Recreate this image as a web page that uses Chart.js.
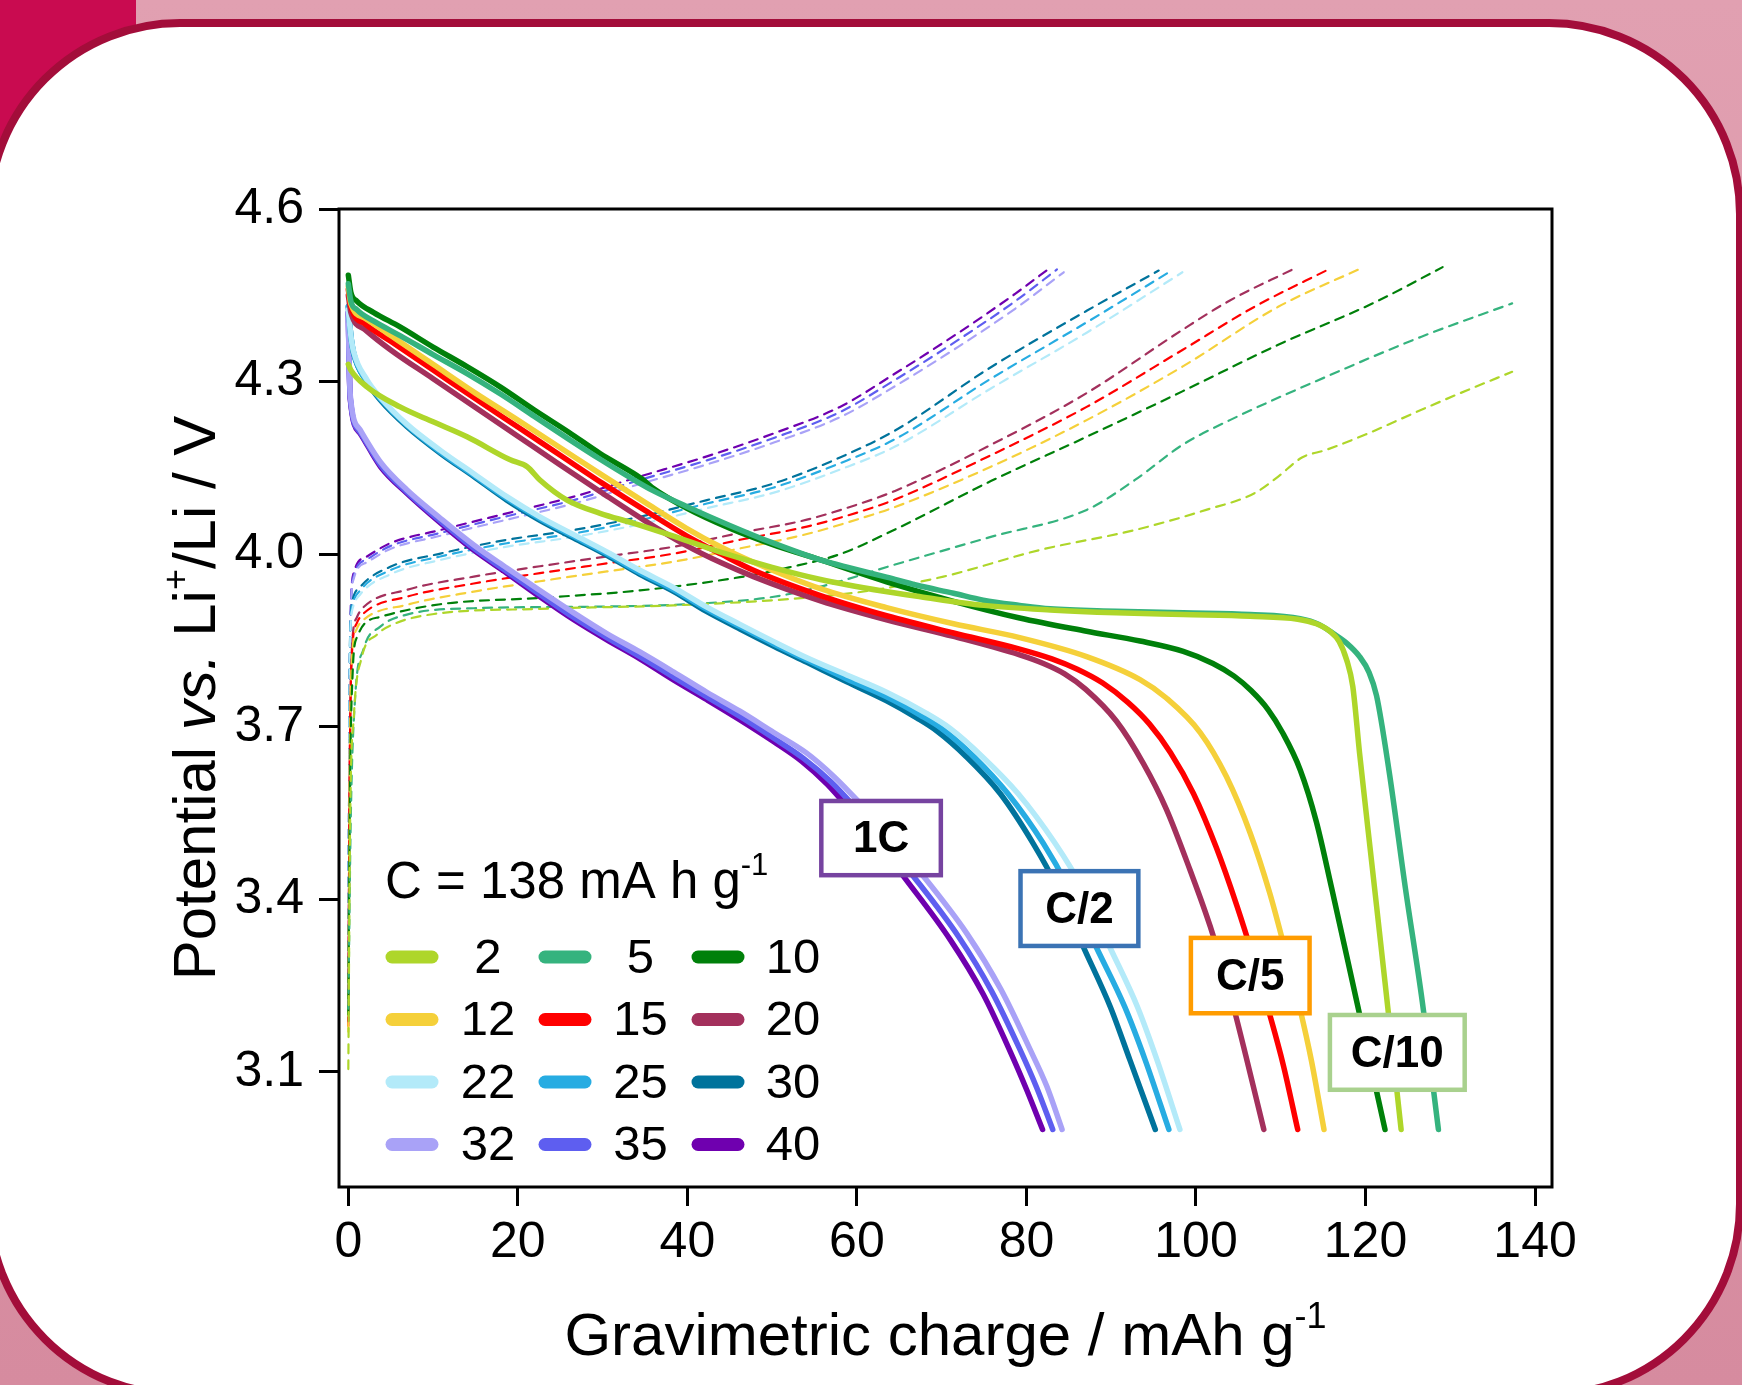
<!DOCTYPE html>
<html>
<head>
<meta charset="utf-8">
<script src="https://cdn.jsdelivr.net/npm/chart.js@4.4.1/dist/chart.umd.min.js"></script>
<style>
  html, body { margin: 0; width: 1742px; height: 1385px; overflow: hidden;
    background: linear-gradient(#E1A0B1, #D68B9F); }
  #corner { position: absolute; left: 0; top: 0; width: 136px; height: 170px; background: #C90B50; }
  #panel { position: absolute; left: -15px; top: 19px; width: 1759px; height: 1380px; box-sizing: border-box;
    border: 8px solid #A30D3A; border-radius: 195px; background: #fff; }
  #myChart { position: absolute; left: 0; top: 0; }
</style>
</head>
<body>
<div id="corner"></div>
<div id="panel"></div>
<canvas id="myChart" width="1742" height="1385"></canvas>
<script>
const FONT = "'Liberation Sans', Arial, Helvetica, sans-serif";

// current rates (mA g-1) and their colours
const rates = [2, 5, 10, 12, 15, 20, 22, 25, 30, 32, 35, 40];
const colors = ['#AED62A', '#35B37E', '#00800A', '#F5D03A', '#FF0000', '#A3305C',
                '#B3EAF9', '#27ACE2', '#00739C', '#A9A2F7', '#5E5EF0', '#6F00AF'];

const xTicks = [0, 20, 40, 60, 80, 100, 120, 140];
const yTicks = [3.1, 3.4, 3.7, 4.0, 4.3, 4.6];

// discharge curves [charge mAh/g, potential V]
const dis2 = [[0,4.33],[0.3,4.32],[2.2,4.291],[6.1,4.256],[10,4.23],[14,4.204],[19.1,4.164],[21.1,4.152],[22.6,4.129],[25.8,4.094],[29.7,4.071],[33.6,4.054],[38,4.033],[44,4.003],[50,3.977],[55.7,3.956],[63,3.936],[67.5,3.926],[75,3.911],[82.8,3.903],[90.6,3.898],[98.5,3.895],[106.4,3.892],[112,3.887],[114.2,3.879],[115.8,3.866],[116.9,3.848],[117.8,3.815],[118.5,3.77],[119.3,3.654],[120.8,3.455],[122.3,3.256],[124.2,3.0]];
const dis5 = [[0,4.47],[0.3,4.44],[1,4.425],[3,4.405],[6.1,4.38],[10,4.347],[14,4.314],[18,4.278],[21.9,4.24],[26,4.2],[29.7,4.165],[33.6,4.13],[36,4.11],[39.9,4.083],[45,4.05],[50,4.02],[55.7,3.99],[59.2,3.976],[63.5,3.96],[67.1,3.946],[71.4,3.932],[74.9,3.92],[79.2,3.911],[82.8,3.905],[90.6,3.901],[98.5,3.898],[106.4,3.895],[112.3,3.888],[114.5,3.878],[116.2,3.862],[117.8,3.845],[119.3,3.822],[120.4,3.795],[121.3,3.754],[122.8,3.621],[124.7,3.42],[126.7,3.222],[128.6,3.0]];
const dis10 = [[0,4.485],[0.3,4.455],[1,4.44],[3,4.42],[6.1,4.395],[10,4.36],[14,4.326],[18,4.29],[21.9,4.251],[26,4.212],[29.7,4.175],[33.6,4.141],[34.8,4.129],[36,4.114],[39.9,4.08],[45,4.045],[50,4.017],[55.7,3.99],[63.5,3.952],[71.4,3.918],[79.2,3.889],[87.1,3.866],[93.4,3.849],[98.5,3.831],[102,3.81],[104.5,3.788],[106.5,3.763],[108.5,3.73],[110.2,3.69],[112.3,3.625],[114.2,3.535],[116,3.42],[118,3.287],[120,3.153],[122.3,3.0]];
const dis12 = [[0,4.465],[0.3,4.435],[2,4.41],[5,4.38],[10,4.33],[15,4.28],[20,4.233],[25,4.185],[30,4.137],[35,4.09],[39.9,4.045],[44,4.012],[47.8,3.986],[55.7,3.94],[63.5,3.907],[71.4,3.879],[79.2,3.855],[87.1,3.822],[93.4,3.782],[96.5,3.75],[100.5,3.69],[103.6,3.613],[106.4,3.515],[108.7,3.411],[110.3,3.324],[112.3,3.208],[113.6,3.121],[115.1,3.0]];
const dis15 = [[0,4.46],[0.3,4.43],[2,4.4],[5,4.37],[10,4.32],[15,4.27],[20,4.221],[25,4.172],[30,4.123],[35,4.076],[39.9,4.032],[44,4.0],[47.8,3.972],[55.7,3.928],[63.5,3.893],[71.4,3.863],[79.2,3.835],[83,3.818],[86,3.8],[89,3.776],[92,3.742],[94.5,3.705],[97,3.655],[99.7,3.584],[102.4,3.49],[104.8,3.39],[106.8,3.297],[108.6,3.205],[110.3,3.112],[112,3.0]];
const dis20 = [[0,4.45],[0.3,4.42],[2,4.39],[5,4.355],[10,4.305],[15,4.255],[20,4.205],[25,4.155],[30,4.106],[35,4.058],[39.9,4.015],[44,3.985],[47.8,3.961],[55.7,3.919],[63.5,3.886],[71.4,3.857],[79.2,3.825],[82,3.81],[84.5,3.792],[87,3.765],[90.6,3.71],[93.8,3.636],[96.5,3.557],[99.3,3.451],[101.7,3.352],[104,3.237],[106,3.121],[108,3.0]];
const dis22 = [[0,4.425],[0.3,4.38],[0.63,4.352],[2.2,4.303],[3.8,4.272],[6.9,4.226],[10.9,4.18],[14.8,4.14],[18.7,4.1],[22.6,4.065],[26.6,4.034],[30.5,4.004],[34.4,3.972],[38.4,3.942],[42.3,3.908],[46.2,3.878],[50.2,3.848],[54.1,3.82],[58.8,3.79],[63.5,3.76],[68,3.725],[71,3.697],[74.8,3.648],[79,3.584],[83.4,3.497],[86.5,3.422],[89.8,3.318],[93.1,3.213],[95.4,3.121],[98.1,3.0]];
const dis25 = [[0,4.43],[0.3,4.38],[0.63,4.35],[2.2,4.3],[3.8,4.27],[6.9,4.224],[10.9,4.177],[14.8,4.137],[18.7,4.097],[22.6,4.062],[26.6,4.031],[30.5,4.001],[34.4,3.968],[38.4,3.938],[42.3,3.904],[46.2,3.874],[50.2,3.844],[54.1,3.816],[58.8,3.783],[63.5,3.752],[67.5,3.72],[70,3.697],[73.8,3.648],[77.8,3.584],[82,3.497],[84.9,3.422],[88.2,3.318],[91.6,3.213],[94,3.121],[96.8,3.0]];
const dis30 = [[0,4.43],[0.3,4.38],[0.63,4.349],[2.2,4.3],[3.77,4.268],[6.9,4.222],[10.9,4.175],[14.8,4.135],[18.7,4.094],[22.6,4.059],[26.6,4.028],[30.5,3.998],[34.4,3.965],[38.4,3.935],[42.3,3.9],[46.2,3.87],[50.2,3.84],[54.1,3.812],[58.8,3.778],[63.5,3.745],[67.1,3.715],[69.4,3.693],[72.9,3.648],[76.9,3.584],[80.8,3.497],[83.6,3.422],[86.7,3.318],[89.9,3.213],[92.2,3.121],[95.2,3.0]];
const dis32 = [[0,4.41],[0.1,4.33],[0.24,4.275],[1.4,4.216],[3.8,4.16],[6.9,4.112],[10.9,4.062],[14.8,4.016],[18.7,3.976],[22.6,3.937],[26.6,3.898],[30.5,3.862],[34.4,3.83],[38.4,3.795],[42.3,3.76],[46.2,3.727],[50.2,3.69],[54,3.655],[57.4,3.612],[60.7,3.562],[63.9,3.51],[67.2,3.452],[73,3.34],[77,3.243],[80.3,3.143],[82.4,3.075],[84.2,3.0]];
const dis35 = [[0,4.42],[0.1,4.33],[0.24,4.27],[1.4,4.212],[3.8,4.155],[6.9,4.108],[10.9,4.057],[14.8,4.01],[18.7,3.97],[22.6,3.93],[26.6,3.89],[30.5,3.855],[34.4,3.822],[38.4,3.786],[42.3,3.752],[46.2,3.718],[50.2,3.68],[53.7,3.645],[56.9,3.605],[60.1,3.555],[63.2,3.503],[66.4,3.445],[72,3.335],[75.9,3.24],[79.2,3.14],[81.2,3.073],[83.1,3.0]];
const dis40 = [[0,4.42],[0.1,4.33],[0.24,4.268],[1.4,4.21],[3.8,4.152],[6.9,4.106],[10.9,4.054],[14.8,4.007],[18.7,3.967],[22.6,3.926],[26.6,3.886],[30.5,3.851],[34.4,3.818],[38.4,3.781],[42.3,3.747],[46.2,3.712],[50.2,3.674],[53.5,3.64],[56.5,3.6],[59.5,3.55],[62.5,3.498],[65.5,3.44],[71,3.33],[74.9,3.235],[78.1,3.135],[80,3.07],[81.9,3.0]];

// charge curves
const chg2 = [[0,3.105],[0.2,3.52],[0.66,3.72],[1.57,3.82],[3.37,3.86],[5.6,3.88],[10.1,3.896],[22.6,3.905],[38.4,3.911],[50.2,3.92],[56,3.927],[61.7,3.937],[70.2,3.961],[81.5,4.007],[92.8,4.042],[101.2,4.077],[106.9,4.106],[109.7,4.135],[112.5,4.168],[115.3,4.181],[120,4.208],[126.6,4.251],[132,4.285],[137.3,4.317]];
const chg5 = [[0,3.21],[0.3,3.55],[0.8,3.75],[1.8,3.835],[3.77,3.874],[6.9,3.895],[14.8,3.906],[30.5,3.909],[42.3,3.915],[50.2,3.926],[56.1,3.945],[64.5,3.982],[75.8,4.03],[87.1,4.077],[92.8,4.129],[98.4,4.19],[104,4.233],[115.3,4.308],[126.6,4.378],[137.3,4.436]];
const chg10 = [[0,3.2],[0.2,3.6],[0.5,3.79],[1,3.855],[3.77,3.891],[10.85,3.913],[22.6,3.924],[34.4,3.937],[46.2,3.96],[52,3.977],[58,4.0],[64.5,4.043],[75.8,4.127],[87.1,4.204],[98.4,4.283],[109.7,4.364],[121,4.437],[129.1,4.499]];
const chg12 = [[0,3.17],[0.15,3.6],[0.4,3.81],[1,3.87],[1.8,3.886],[6.9,3.912],[14.8,3.935],[22.6,3.953],[30.5,3.97],[38.4,3.987],[46.2,4.01],[54.1,4.035],[60.4,4.062],[64.5,4.082],[75.8,4.152],[87.1,4.233],[98.4,4.326],[109.7,4.43],[119.8,4.499]];
const chg15 = [[0,3.18],[0.15,3.6],[0.4,3.82],[1,3.88],[1.8,3.897],[6.9,3.926],[14.8,3.949],[22.6,3.967],[30.5,3.984],[38.4,4.001],[46.2,4.025],[54.1,4.048],[60.4,4.074],[64.5,4.095],[75.8,4.172],[87.1,4.256],[98.4,4.355],[106.9,4.43],[115.9,4.497]];
const chg20 = [[0,3.19],[0.15,3.6],[0.4,3.83],[1,3.89],[1.8,3.908],[6.9,3.938],[14.8,3.961],[22.6,3.979],[30.5,3.996],[38.4,4.013],[46.2,4.037],[54.1,4.06],[60.4,4.088],[64.5,4.11],[75.8,4.19],[87.1,4.28],[98.4,4.39],[104,4.441],[111.4,4.495]];
const chg22 = [[0,3.2],[0.1,3.6],[0.2,3.84],[0.5,3.905],[1.4,3.93],[4.95,3.965],[10.85,3.99],[18.7,4.013],[26.6,4.03],[34.4,4.052],[42.3,4.08],[50.2,4.107],[58,4.147],[64.5,4.187],[75.8,4.288],[87.1,4.385],[98.4,4.49]];
const chg25 = [[0,3.2],[0.1,3.6],[0.2,3.845],[0.5,3.912],[1.4,3.937],[4.95,3.972],[10.85,3.996],[18.7,4.019],[26.6,4.036],[34.4,4.059],[42.3,4.088],[50.2,4.116],[58,4.158],[64.5,4.2],[75.8,4.305],[87.1,4.403],[96.8,4.49]];
const chg30 = [[0,3.2],[0.1,3.6],[0.2,3.85],[0.5,3.92],[1.4,3.943],[4.95,3.978],[10.85,4.001],[18.7,4.025],[26.6,4.042],[34.4,4.065],[42.3,4.094],[50.2,4.123],[58,4.168],[64.5,4.215],[75.8,4.325],[87.1,4.423],[95.6,4.493]];
const chg32 = [[0,3.2],[0.1,3.6],[0.25,3.87],[0.63,3.957],[2.2,3.986],[4.95,4.009],[10.85,4.032],[18.7,4.06],[26.6,4.088],[34.4,4.122],[42.3,4.156],[50.2,4.194],[58,4.238],[64.5,4.292],[71.9,4.36],[78.7,4.427],[84.4,4.49]];
const chg35 = [[0,3.2],[0.1,3.6],[0.25,3.875],[0.63,3.962],[2.2,3.991],[4.95,4.014],[10.85,4.037],[18.7,4.066],[26.6,4.094],[34.4,4.129],[42.3,4.163],[50.2,4.202],[58,4.247],[64.5,4.303],[71.9,4.372],[78.7,4.44],[83.6,4.495]];
const chg40 = [[0,3.2],[0.1,3.6],[0.25,3.88],[0.63,3.967],[2.2,3.996],[4.95,4.019],[10.85,4.042],[18.7,4.071],[26.6,4.1],[34.4,4.135],[42.3,4.17],[50.2,4.21],[58,4.256],[64.5,4.314],[71.9,4.384],[78.7,4.453],[82.9,4.499]];

const discharge = [dis2, dis5, dis10, dis12, dis15, dis20, dis22, dis25, dis30, dis32, dis35, dis40];
const charge = [chg2, chg5, chg10, chg12, chg15, chg20, chg22, chg25, chg30, chg32, chg35, chg40];

// C-rate boxes
const noteLabels = ['1C', 'C/2', 'C/5', 'C/10'];
const noteColors = ['#7643A0', '#3B73B4', '#FF9C00', '#A9D18E'];
const noteQ = [[55.8, 69.9], [79.3, 93.2], [99.4, 113.4], [115.8, 131.7]];
const noteV = [[3.571, 3.442], [3.449, 3.319], [3.333, 3.202], [3.199, 3.069]];

const toXY = arr => arr.map(p => ({ x: p[0], y: p[1] }));

const datasets = [];
rates.forEach((r, i) => {
    datasets.push({
        label: r + ' charge',
        data: toXY(charge[i]),
        borderColor: colors[i],
        borderWidth: 2.2,
        borderDash: [9, 7],
        order: 2
    });
    datasets.push({
        label: String(r),
        data: toXY(discharge[i]),
        borderColor: colors[i],
        borderWidth: 5.5,
        order: 1
    });
});

function drawRich(ctx, parts, x, y, size, align) {
    const fontOf = p => (p.italic ? 'italic ' : '') + Math.round(p.sup ? size * 0.6 : size) + 'px ' + FONT;
    let w = 0;
    parts.forEach(p => { ctx.font = fontOf(p); w += ctx.measureText(p.t).width; });
    let cx = align === 'center' ? x - w / 2 : x;
    ctx.textAlign = 'left';
    ctx.textBaseline = 'alphabetic';
    parts.forEach(p => {
        ctx.font = fontOf(p);
        ctx.fillText(p.t, cx, p.sup ? y - size * 0.45 : y);
        cx += ctx.measureText(p.t).width;
    });
}

const decorations = {
    id: 'decorations',
    afterDatasetsDraw(chart) {
        const { ctx, chartArea: a, scales: { x, y } } = chart;
        ctx.save();
        // frame
        ctx.strokeStyle = '#000';
        ctx.lineWidth = 3;
        ctx.strokeRect(a.left, a.top, a.right - a.left, a.bottom - a.top);

        // C-rate boxes
        noteLabels.forEach((t, i) => {
            const x1 = x.getPixelForValue(noteQ[i][0]), x2 = x.getPixelForValue(noteQ[i][1]);
            const y1 = y.getPixelForValue(noteV[i][0]), y2 = y.getPixelForValue(noteV[i][1]);
            ctx.fillStyle = '#fff';
            ctx.fillRect(x1, y1, x2 - x1, y2 - y1);
            ctx.strokeStyle = noteColors[i];
            ctx.lineWidth = 4.5;
            ctx.strokeRect(x1, y1, x2 - x1, y2 - y1);
            ctx.fillStyle = '#000';
            ctx.font = 'bold 44px ' + FONT;
            ctx.textAlign = 'center';
            ctx.textBaseline = 'middle';
            ctx.fillText(t, (x1 + x2) / 2, (y1 + y2) / 2 + 2);
        });

        // legend
        ctx.fillStyle = '#000';
        drawRich(ctx, [{ t: 'C = 138 mA h g' }, { t: '-1', sup: true }], a.left + 46, a.bottom - 289, 51, 'left');
        rates.forEach((r, i) => {
            const row = Math.floor(i / 3), col = i % 3;
            const cy = a.bottom - 230 + row * 62.5;
            const sx = a.left + 53 + col * 153;
            ctx.strokeStyle = colors[i];
            ctx.lineWidth = 13;
            ctx.lineCap = 'round';
            ctx.beginPath();
            ctx.moveTo(sx, cy);
            ctx.lineTo(sx + 40, cy);
            ctx.stroke();
            ctx.fillStyle = '#000';
            ctx.font = '49px ' + FONT;
            ctx.textAlign = 'center';
            ctx.textBaseline = 'middle';
            ctx.fillText(String(r), a.left + 149 + col * 152.5, cy + 2);
        });

        // axis titles
        ctx.fillStyle = '#000';
        drawRich(ctx, [{ t: 'Gravimetric charge / mAh g' }, { t: '-1', sup: true }],
            (a.left + a.right) / 2, a.bottom + 168, 60, 'center');
        ctx.translate(a.left - 124, (a.top + a.bottom) / 2);
        ctx.rotate(-Math.PI / 2);
        drawRich(ctx, [{ t: 'Potential ' }, { t: 'vs.', italic: true }, { t: ' Li' }, { t: '+', sup: true }, { t: '/Li / V' }],
            0, 0, 60, 'center');
        ctx.restore();
    }
};

const ctx = document.getElementById('myChart').getContext('2d');
const chart = new Chart(ctx, {
    type: 'scatter',
    data: { datasets: datasets },
    options: {
        responsive: false,
        animation: false,
        devicePixelRatio: 1,
        events: [],
        showLine: true,
        layout: { padding: { top: 209, right: 190, left: 0, bottom: 0 } },
        elements: {
            point: { radius: 0 },
            line: { cubicInterpolationMode: 'monotone', borderCapStyle: 'round', borderJoinStyle: 'round' }
        },
        plugins: { legend: { display: false }, tooltip: { enabled: false } },
        scales: {
            x: {
                type: 'linear',
                min: -1.1,
                max: 142,
                afterFit: s => { s.height = 198; },
                afterBuildTicks: s => { s.ticks = xTicks.map(v => ({ value: v })); },
                ticks: { autoSkip: false, maxRotation: 0, color: '#000', padding: 7,
                    font: { family: FONT, size: 50 }, callback: v => String(v) },
                grid: { display: true, drawOnChartArea: false, drawTicks: true, tickLength: 19, tickWidth: 3, tickColor: '#000' },
                border: { display: false }
            },
            y: {
                type: 'linear',
                min: 2.9,
                max: 4.6,
                afterFit: s => { s.width = 339; },
                afterBuildTicks: s => { s.ticks = yTicks.map(v => ({ value: v })); },
                ticks: { autoSkip: false, color: '#000', padding: 15,
                    font: { family: FONT, size: 50 }, callback: v => Number(v).toFixed(1) },
                grid: { display: true, drawOnChartArea: false, drawTicks: true, tickLength: 20, tickWidth: 3, tickColor: '#000' },
                border: { display: false }
            }
        }
    },
    plugins: [decorations]
});
</script>
</body>
</html>
